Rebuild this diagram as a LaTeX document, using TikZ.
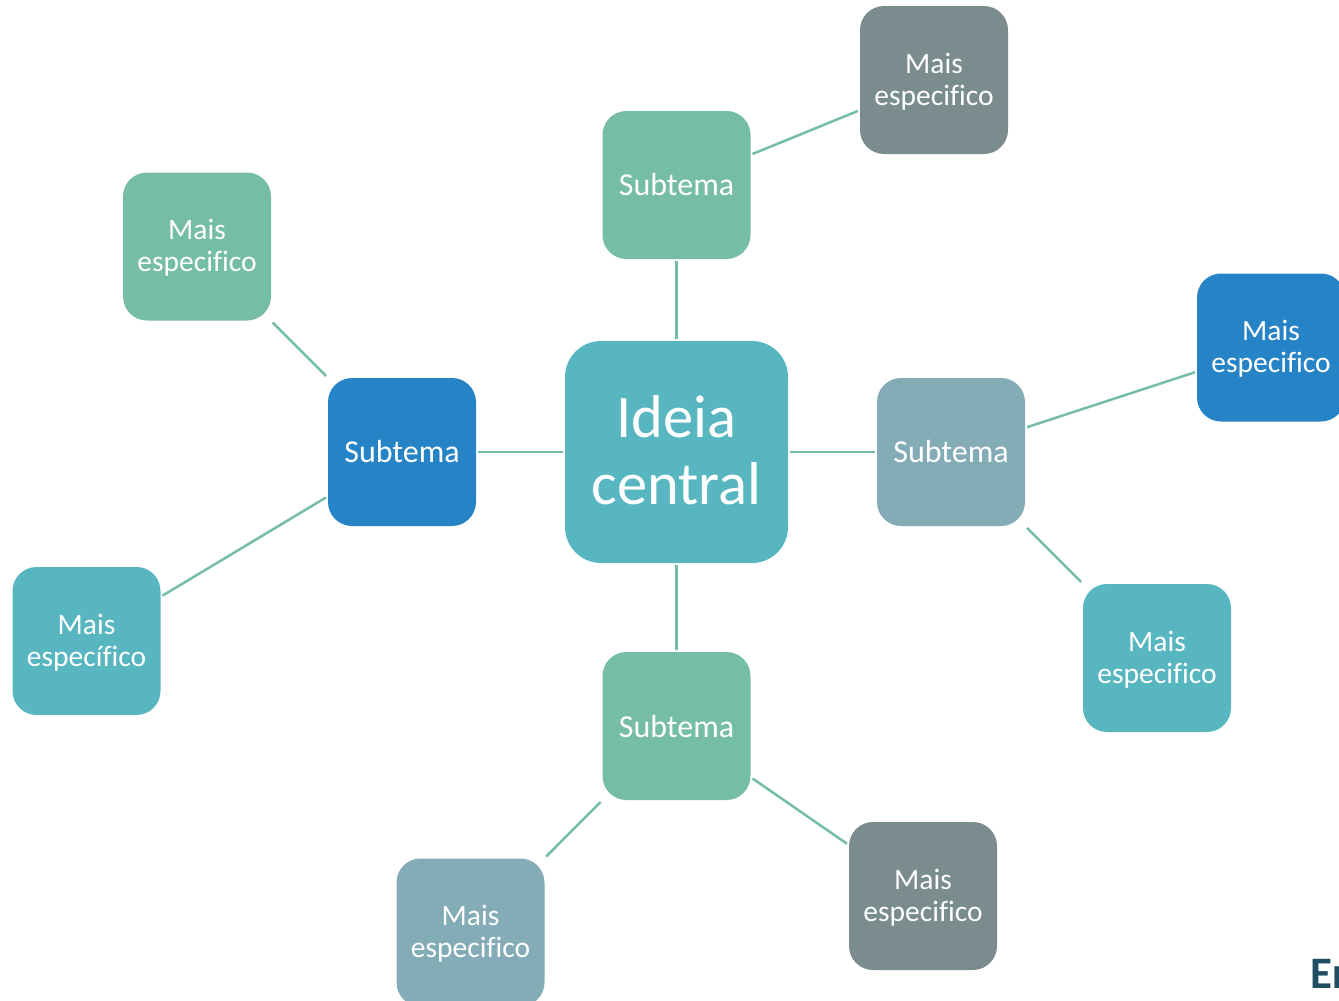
\documentclass[tikz,border=0pt]{standalone}
\usepackage{fontspec}
\setmainfont[Ligatures=NoCommon]{Carlito}
\definecolor{cteal}{HTML}{58B6C0}
\definecolor{cgreen}{HTML}{75BDA7}
\definecolor{cblue}{HTML}{2683C6}
\definecolor{cslate}{HTML}{84ACB6}
\definecolor{cgrey}{HTML}{7A8C8E}
\definecolor{cdark}{HTML}{1F4E63}
\newcommand{\twolines}[3]{\raisebox{#1}[0pt][0pt]{\begin{tabular}{@{}c@{}}#2\\#3\end{tabular}}}
\tikzset{
  box/.style={rounded corners=24pt,minimum width=148pt,minimum height=148pt,inner sep=0pt,outer sep=2pt,text=white,font=\fontsize{29.5}{32}\selectfont},
  sub/.style={box,font=\fontsize{32}{32}\selectfont},
  hub/.style={box,rounded corners=36pt,minimum width=223pt,minimum height=222pt,font=\fontsize{60.5}{67}\selectfont},
  link/.style={draw=cgreen,line width=2.5pt}
}
\begin{document}
\begin{tikzpicture}[x=1pt,y=-1pt]
\useasboundingbox (0,0) rectangle (1339,1001);
\clip (0,0) rectangle (1339,1001);
\node[hub,fill=cteal] (c) at (676.5,452) {\twolines{-12pt}{Ideia}{central}};
\node[sub,fill=cgreen] (st) at (676.5,185) {Subtema};
\node[sub,fill=cblue] (sl) at (402,452) {Subtema};
\node[sub,fill=cslate] (sr) at (951,452) {Subtema};
\node[sub,fill=cgreen] (sb) at (676.5,726) {Subtema};
\node[box,fill=cgrey] (m1) at (934,80) {\twolines{-9pt}{Mais}{especifico}};
\node[box,fill=cgreen] (m2) at (197,246.5) {\twolines{-9pt}{Mais}{especifico}};
\node[box,fill=cteal] (m3) at (86.5,641) {\twolines{-9pt}{Mais}{específico}};
\node[box,fill=cblue] (m4) at (1271,347.5) {\twolines{-9pt}{Mais}{especifico}};
\node[box,fill=cteal] (m5) at (1157,658) {\twolines{-9pt}{Mais}{especifico}};
\node[box,fill=cgrey] (m6) at (923,896) {\twolines{-9pt}{Mais}{especifico}};
\node[box,fill=cslate] (m7) at (470.5,932.5) {\twolines{-9pt}{Mais}{especifico}};
\draw[link] (c) -- (st);
\draw[link] (c) -- (sl);
\draw[link] (c) -- (sr);
\draw[link] (c) -- (sb);
\draw[link] (st) -- (m1);
\draw[link] (sl) -- (m2);
\draw[link] (sl) -- (m3);
\draw[link] (sr) -- (m4);
\draw[link] (sr) -- (m5);
\draw[link] (sb) -- (m6);
\draw[link] (sb) -- (m7);
\node[anchor=base west,inner sep=0pt,text=cdark,font=\fontsize{45}{45}\selectfont\bfseries] (e) at (1310,988) {Er};
\end{tikzpicture}
\end{document}
